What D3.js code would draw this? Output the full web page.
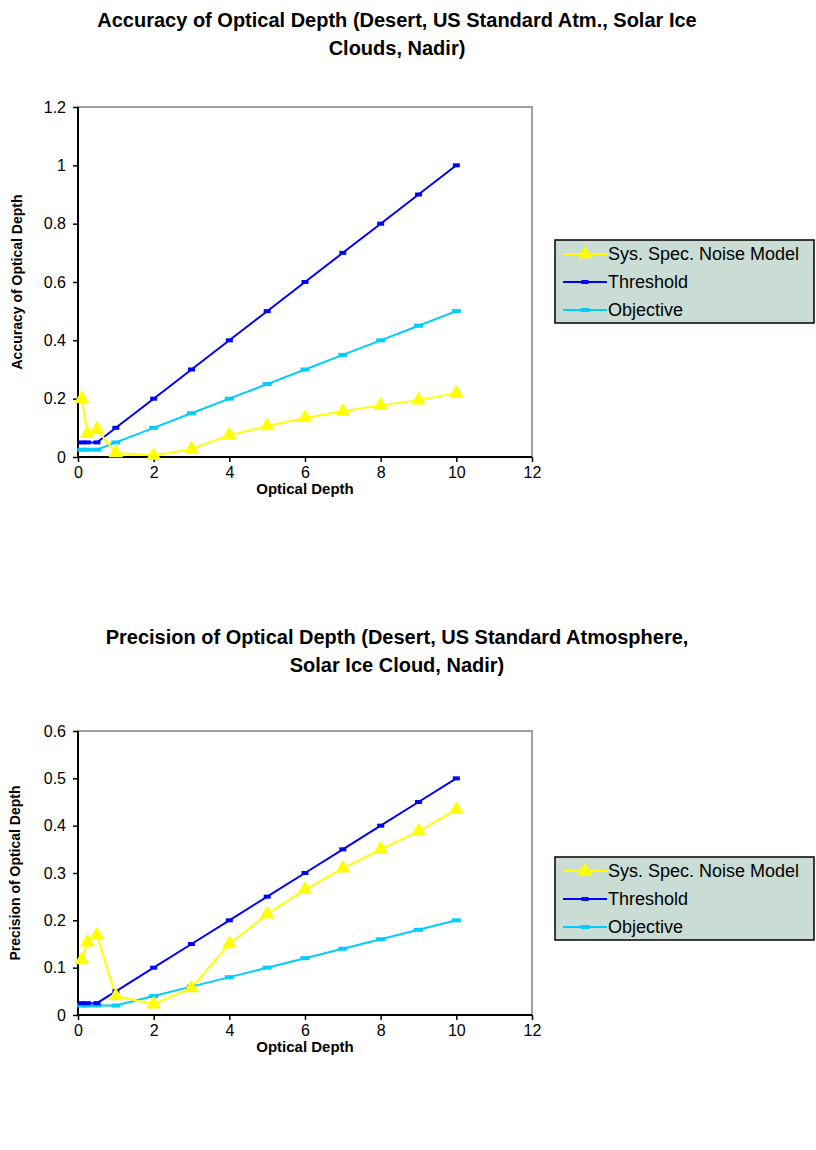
<!DOCTYPE html>
<html><head><meta charset="utf-8">
<script src="https://cdn.jsdelivr.net/npm/d3@7"></script>
<style>body{margin:0;background:#fff}svg{display:block}text{font-family:"Liberation Sans",Arial,sans-serif}</style>
</head><body>
<svg id="c" width="816" height="1150"></svg>
<script>
const opticalDepth = [0.1, 0.25, 0.5, 1, 2, 3, 4, 5, 6, 7, 8, 9, 10];
const seriesNames = ["Sys. Spec. Noise Model", "Threshold", "Objective"];
// Accuracy chart
const accSys = [0.20, 0.08, 0.095, 0.014, 0.005, 0.027, 0.075, 0.106, 0.134, 0.157, 0.177, 0.195, 0.219];
const accThreshold = [0.05, 0.05, 0.05, 0.1, 0.2, 0.3, 0.4, 0.5, 0.6, 0.7, 0.8, 0.9, 1.0];
const accObjective = [0.025, 0.025, 0.025, 0.05, 0.1, 0.15, 0.2, 0.25, 0.3, 0.35, 0.4, 0.45, 0.5];
// Precision chart
const precSys = [0.116, 0.154, 0.169, 0.04, 0.023, 0.057, 0.15, 0.213, 0.265, 0.31, 0.35, 0.388, 0.434];
const precThreshold = [0.025, 0.025, 0.025, 0.05, 0.1, 0.15, 0.2, 0.25, 0.3, 0.35, 0.4, 0.45, 0.5];
const precObjective = [0.02, 0.02, 0.02, 0.02, 0.04, 0.06, 0.08, 0.1, 0.12, 0.14, 0.16, 0.18, 0.2];
const xTicks = [0, 2, 4, 6, 8, 10, 12];
const accYTicks = [0, 0.2, 0.4, 0.6, 0.8, 1, 1.2];
const precYTicks = [0, 0.1, 0.2, 0.3, 0.4, 0.5, 0.6];

const colors = ["#FFFF00", "#0000FF", "#00CCFF"];
const svg = d3.select("#c");

function drawChart(cfg) {
  const g = svg.append("g");
  const x = d3.scaleLinear().domain([0, 12]).range([78, 532]);
  const y = d3.scaleLinear().domain([0, cfg.yMax]).range([cfg.yBottom, cfg.yTop]);

  // title
  const t = g.append("text").attr("text-anchor", "middle").attr("font-weight", "bold").attr("font-size", 20);
  cfg.title.forEach((line, i) => t.append("tspan").attr("x", 397).attr("y", cfg.titleY + i * 28).text(line));

  // plot border (gray)
  g.append("rect").attr("x", x(0)).attr("y", y(cfg.yMax)).attr("width", x(12) - x(0)).attr("height", y(0) - y(cfg.yMax))
    .attr("fill", "#fff").attr("stroke", "#808080").attr("stroke-width", 1.5);

  // axes
  const xa = g.append("g").attr("transform", `translate(0,${y(0)})`)
    .call(d3.axisBottom(x).tickValues(xTicks).tickSize(5).tickPadding(5).tickFormat(d3.format("d")));
  const ya = g.append("g").attr("transform", `translate(${x(0)},0)`)
    .call(d3.axisLeft(y).tickValues(cfg.yTicks).tickSize(5).tickPadding(7).tickFormat(d => String(+d.toFixed(2))));
  [xa, ya].forEach(a => {
    a.selectAll("path").attr("stroke", "#000").attr("stroke-width", 2);
    a.selectAll("line").attr("stroke", "#000").attr("stroke-width", 1.5);
    a.selectAll("text").attr("font-size", 16).attr("fill", "#000").style("font-family", '"Liberation Sans",Arial,sans-serif');
  });
  xa.select(".domain").attr("d", `M${x(0)},0H${x(12)}`);
  ya.select(".domain").attr("d", `M0,${y(0)}V${y(cfg.yMax)}`);

  g.append("text").attr("x", (x(0) + x(12)) / 2).attr("y", cfg.yBottom + 37).attr("text-anchor", "middle")
    .attr("font-weight", "bold").attr("font-size", 15).text("Optical Depth");
  g.append("text").attr("transform", `translate(${cfg.yLabelX},${(y(0) + y(cfg.yMax)) / 2}) rotate(-90)`)
    .attr("text-anchor", "middle").attr("font-weight", "bold").attr("font-size", 14).text(cfg.yLabel);

  const line = d3.line().x((d, i) => x(opticalDepth[i])).y(d => y(d));
  [2, 1, 0].forEach(si => {
    g.append("path").attr("d", line(cfg.series[si])).attr("fill", "none").attr("stroke", colors[si]).attr("stroke-width", 2);
  });
  // markers
  g.selectAll(null).data(cfg.series[2]).join("rect")
    .attr("x", (d, i) => x(opticalDepth[i]) - 4.5).attr("y", d => y(d) - 2).attr("width", 9).attr("height", 4).attr("fill", colors[2]);
  g.selectAll(null).data(cfg.series[1]).join("rect")
    .attr("x", (d, i) => x(opticalDepth[i]) - 3.5).attr("y", d => y(d) - 2).attr("width", 7).attr("height", 4).attr("fill", colors[1]);
  const tri = d3.symbol().type(d3.symbolTriangle).size(95);
  g.selectAll(null).data(cfg.series[0]).join("path")
    .attr("transform", (d, i) => `translate(${x(opticalDepth[i])},${y(d)})`).attr("d", tri).attr("fill", colors[0]);

  // legend
  const lg = g.append("g").attr("transform", `translate(555,${cfg.legendY})`);
  lg.append("rect").attr("width", 259).attr("height", 83).attr("fill", "#C9DDD5").attr("stroke", "#000").attr("stroke-width", 1.5);
  seriesNames.forEach((name, i) => {
    const yy = 14 + i * 28;
    lg.append("line").attr("x1", 8).attr("x2", 52).attr("y1", yy).attr("y2", yy).attr("stroke", colors[i]).attr("stroke-width", 2);
    if (i === 0) lg.append("path").attr("transform", `translate(30,${yy})`).attr("d", tri).attr("fill", colors[0]);
    if (i === 1) lg.append("rect").attr("x", 26.5).attr("y", yy - 2).attr("width", 7).attr("height", 4).attr("fill", colors[1]);
    if (i === 2) lg.append("rect").attr("x", 25.5).attr("y", yy - 2).attr("width", 9).attr("height", 4).attr("fill", colors[2]);
    lg.append("text").attr("x", 53).attr("y", yy + 6).attr("font-size", 18).text(name);
  });
}

drawChart({
  title: ["Accuracy of Optical Depth (Desert, US Standard Atm., Solar Ice", "Clouds, Nadir)"],
  titleY: 27, yMax: 1.2, yTop: 107, yBottom: 457, yTicks: accYTicks, yLabel: "Accuracy of Optical Depth", yLabelX: 22,
  series: [accSys, accThreshold, accObjective], legendY: 240
});
drawChart({
  title: ["Precision of Optical Depth (Desert, US Standard Atmosphere,", "Solar Ice Cloud, Nadir)"],
  titleY: 644, yMax: 0.6, yTop: 731, yBottom: 1015, yTicks: precYTicks, yLabel: "Precision of Optical Depth", yLabelX: 20,
  series: [precSys, precThreshold, precObjective], legendY: 857
});
</script>
</body></html>
